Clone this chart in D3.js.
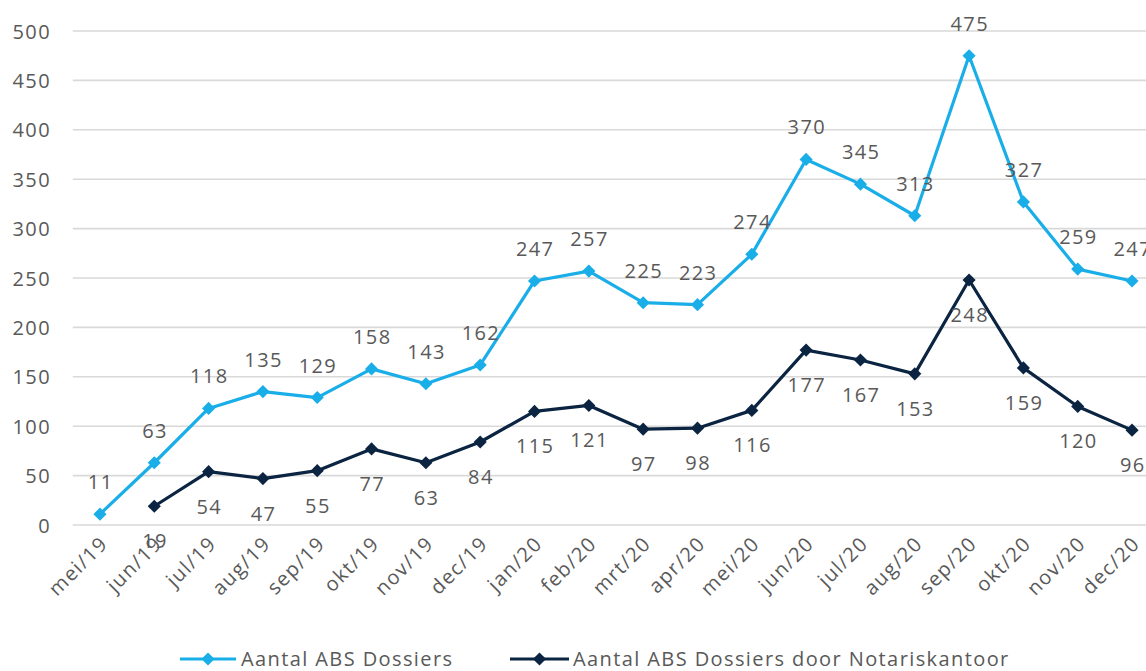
<!DOCTYPE html>
<html><head><meta charset="utf-8">
<script src="https://cdn.jsdelivr.net/npm/d3@7"></script>
<style>
html,body{margin:0;padding:0;background:#fff;}
svg text{font-family:"Open Sans","Noto Sans",sans-serif;fill:#595959;letter-spacing:1.4px;}
</style></head>
<body><svg id="c" width="1146" height="671"></svg>
<script>
const categories = ["mei/19","jun/19","jul/19","aug/19","sep/19","okt/19","nov/19","dec/19","jan/20","feb/20","mrt/20","apr/20","mei/20","jun/20","jul/20","aug/20","sep/20","okt/20","nov/20","dec/20"];
const abs = [11,63,118,135,129,158,143,162,247,257,225,223,274,370,345,313,475,327,259,247];
const absNotaris = [null,19,54,47,55,77,63,84,115,121,97,98,116,177,167,153,248,159,120,96];
const yTicks = [0,50,100,150,200,250,300,350,400,450,500];
const seriesNames = ["Aantal ABS Dossiers","Aantal ABS Dossiers door Notariskantoor"];

const svg = d3.select("#c");
const x = d3.scaleBand().domain(categories).range([72.8, 1159.2]);
const y = d3.scaleLinear().domain([0,500]).range([525,31]);
const cx = d => x(d) + x.bandwidth()/2;
const FS = "20px";

// gridlines
svg.append("g").selectAll("line").data(yTicks).join("line")
  .attr("x1",72.8).attr("x2",1146).attr("y1",d=>y(d)).attr("y2",d=>y(d))
  .attr("stroke","#d9d9d9").attr("stroke-width",1.6);

// y axis labels
const yAxis = d3.axisLeft(y).tickValues(yTicks).tickSize(0).tickPadding(0);
const ya = svg.append("g").attr("transform","translate(51,0)").call(yAxis);
ya.select(".domain").remove();
ya.selectAll("text").style("font-size",FS).attr("fill","#595959").attr("dy","0.35em");

// x axis labels
const xAxis = d3.axisBottom(x).tickSize(0).tickPadding(0);
const xa = svg.append("g").attr("transform","translate(0,525)").call(xAxis);
xa.select(".domain").remove();
xa.selectAll("text").style("font-size",FS).attr("fill","#595959")
  .attr("text-anchor","end").attr("dy",null).attr("y",0)
  .attr("transform","translate(9,20) rotate(-45)");

const colors = ["#1aaee9","#0b2441"];
const data = [abs, absNotaris];
const diamond = d3.symbol().type(d3.symbolDiamond2).size(110);

data.forEach((vals,si)=>{
  const pts = categories.map((c,i)=>({c, v: vals[i]})).filter(p=>p.v!=null);
  const line = d3.line().x(p=>cx(p.c)).y(p=>y(p.v));
  svg.append("path").datum(pts).attr("d",line).attr("fill","none")
    .attr("stroke",colors[si]).attr("stroke-width",3.2).attr("stroke-linejoin","round");
  svg.append("g").selectAll("path").data(pts).join("path")
    .attr("d",diamond).attr("fill",colors[si])
    .attr("transform",p=>`translate(${cx(p.c)},${y(p.v)})`);
  svg.append("g").selectAll("text").data(pts).join("text")
    .attr("x",p=>cx(p.c)+0.7).attr("y",p=> si===0 ? y(p.v)-32 : y(p.v)+35)
    .attr("dy","0.35em").attr("text-anchor","middle")
    .style("font-size",FS).attr("fill","#404040").text(p=>p.v);
});

// legend
const lg = svg.append("g");
const legendItems = [{x1:180,x2:236,tx:241},{x1:510,x2:569,tx:573}];
legendItems.forEach((it,i)=>{
  lg.append("line").attr("x1",it.x1).attr("x2",it.x2).attr("y1",659).attr("y2",659)
    .attr("stroke",colors[i]).attr("stroke-width",3.2);
  lg.append("path").attr("d",diamond).attr("fill",colors[i])
    .attr("transform",`translate(${(it.x1+it.x2)/2},659)`);
  lg.append("text").attr("x",it.tx).attr("y",659).attr("dy","0.35em")
    .style("font-size",FS).attr("fill","#595959").text(seriesNames[i]);
});
</script></body></html>
